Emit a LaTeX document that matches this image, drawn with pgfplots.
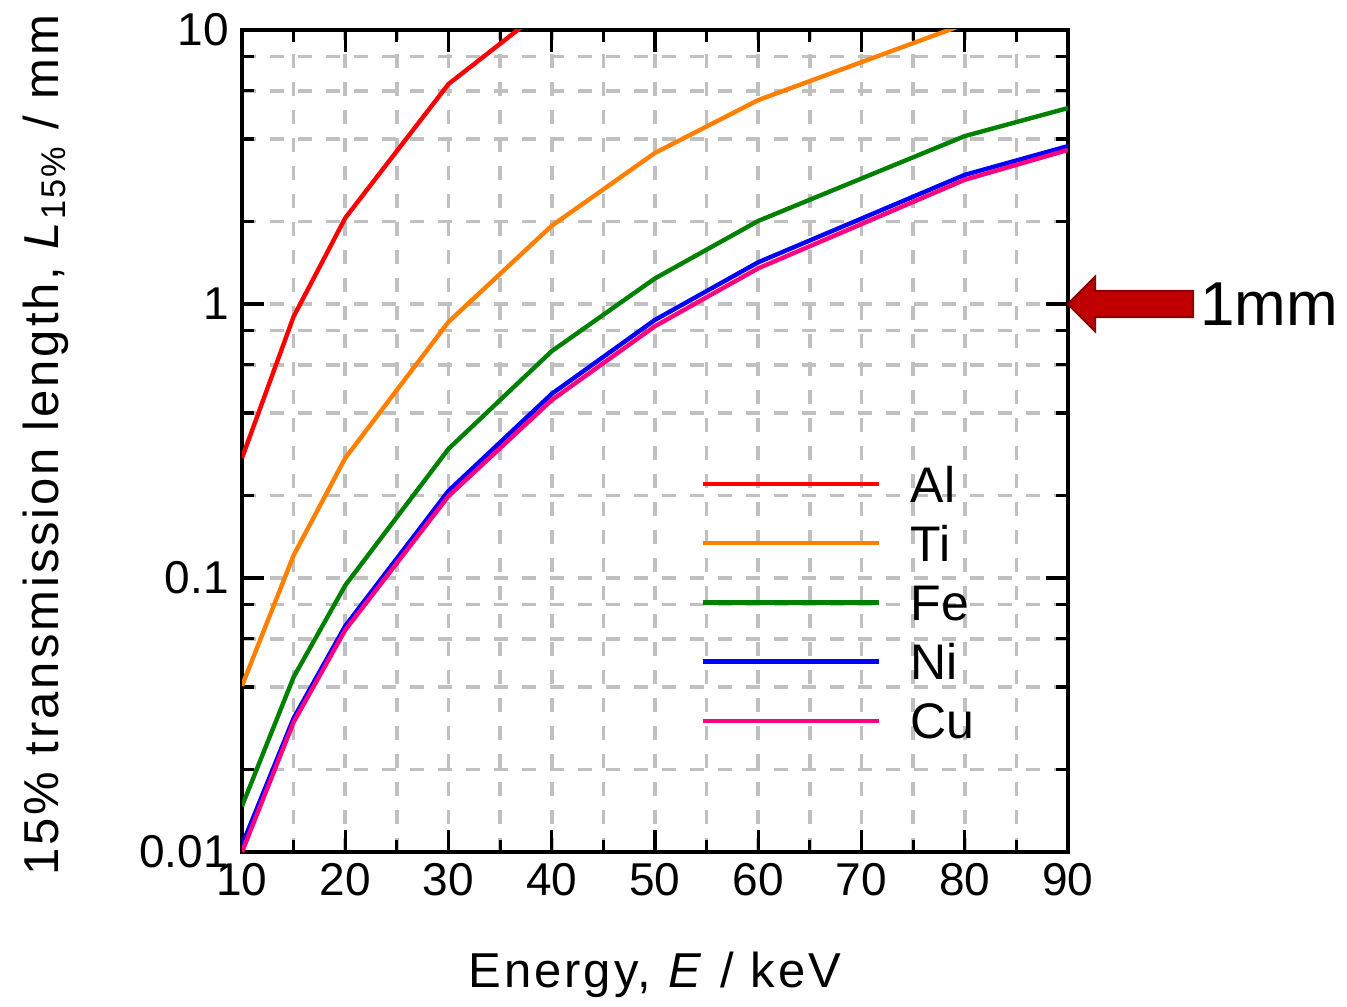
\documentclass[border=0pt]{standalone}
\usepackage{fontspec}
\setmainfont{Liberation Sans}
\newfontfamily\spacedfont[LetterSpace=6]{Liberation Sans}
\usepackage{pgfplots}
\pgfplotsset{compat=1.18}

\definecolor{cAl}{HTML}{FF0000}
\definecolor{cTi}{HTML}{FF8000}
\definecolor{cFe}{HTML}{008000}
\definecolor{cNi}{HTML}{0000FF}
\definecolor{cCu}{HTML}{FF0080}
\definecolor{gridgray}{HTML}{C0C0C0}
\definecolor{arrowfill}{HTML}{C00000}
\definecolor{arrowline}{HTML}{8E0000}

\begin{document}
\begin{tikzpicture}
\begin{axis}[
    name=ax,
    scale only axis,
    width=413pt, height=411pt,
    xmin=10, xmax=90,
    ymin=0.01, ymax=10,
    ymode=log,
    clip mode=individual,
    no markers,
    xtick={10,20,...,90},
    minor x tick num=1,
    ytick={0.01,0.1,1,10},
    yticklabels={0.01,0.1,1,10},
    minor ytick={0.02,0.04,0.06,0.08,0.2,0.4,0.6,0.8,2,4,6,8},
    grid=both,
    grid style={line width=1.8pt, draw=gridgray, dash pattern=on 7pt off 7pt},
    axis line style={line width=2pt},
    every tick/.style={black, line width=1.6pt},
    major tick length=11pt,
    minor tick length=6pt,
    tick align=inside,
    /pgf/number format/assume math mode=true,
    tick label style={font=\fontsize{23}{27}\selectfont},
    xticklabel style={yshift=-2pt},
    yticklabel style={xshift=-3pt},
    xlabel={Energy, \textit{E} / keV},
    xlabel style={at={(axis description cs:0.5,-0.150)}, anchor=center,
        font=\spacedfont\fontsize{24.5}{29}\selectfont},
    ylabel={15\% transmission length, \textit{L}\textsubscript{15\%} / mm},
    ylabel style={at={(axis description cs:-0.238,0.495)}, anchor=center,
        font=\spacedfont\fontsize{24.5}{29}\selectfont},
    legend style={at={(axis description cs:0.5545,0.47)}, anchor=north west,
        draw=none, fill=none, inner sep=0pt, row sep=11.6pt, column sep=15pt,
        font=\fontsize{25}{30}\selectfont,
        nodes={inner sep=0pt, text height=18pt, text depth=0pt}},
    legend cell align=left,
    legend image code/.code={\draw[#1, line width=2.2pt] (0pt,0pt) -- (88pt,0pt);},
]

% Al
\addplot[cAl, line width=2.2pt] coordinates {
    (10,0.274) (15,0.90) (20,2.06) (30,6.35) (40,12.5)
};
% Ti
\addplot[cTi, line width=2.2pt] coordinates {
    (10,0.0404) (15,0.121) (20,0.274) (30,0.86) (40,1.93)
    (50,3.56) (60,5.55) (80,10.5) (90,11.8)
};
% Fe
\addplot[cFe, line width=2.2pt] coordinates {
    (10,0.0147) (15,0.0435) (20,0.094) (30,0.296) (40,0.673)
    (50,1.24) (60,2.01) (80,4.10) (90,5.19)
};
% Ni
\addplot[cNi, line width=2.2pt] coordinates {
    (10,0.0106) (15,0.0308) (20,0.0668) (30,0.208) (40,0.47)
    (50,0.875) (60,1.42) (80,2.96) (90,3.77)
};
% Cu
\addplot[cCu, line width=2.2pt] coordinates {
    (10,0.0100) (15,0.0298) (20,0.0646) (30,0.199) (40,0.446)
    (50,0.83) (60,1.35) (80,2.84) (90,3.65)
};
\legend{Al, Ti, Fe, Ni, Cu}

% 1 mm marker arrow
\filldraw[fill=arrowfill, draw=arrowline, line width=1.2pt, line join=miter]
    (axis cs:90,1) -- ++(13.5pt,13.5pt) -- ++(0pt,-7pt) -- ++(49pt,0pt)
    -- ++(0pt,-13pt) -- ++(-49pt,0pt) -- ++(0pt,-7pt) -- cycle;
\node[anchor=west, inner sep=0pt, font=\fontsize{31}{36}\selectfont]
    at ([xshift=66pt]axis cs:90,1) {1mm};
\end{axis}
\path ([shift={(-121pt,-77pt)}]ax.south west) rectangle ([shift={(139.5pt,15pt)}]ax.north east);
\end{tikzpicture}
\end{document}
